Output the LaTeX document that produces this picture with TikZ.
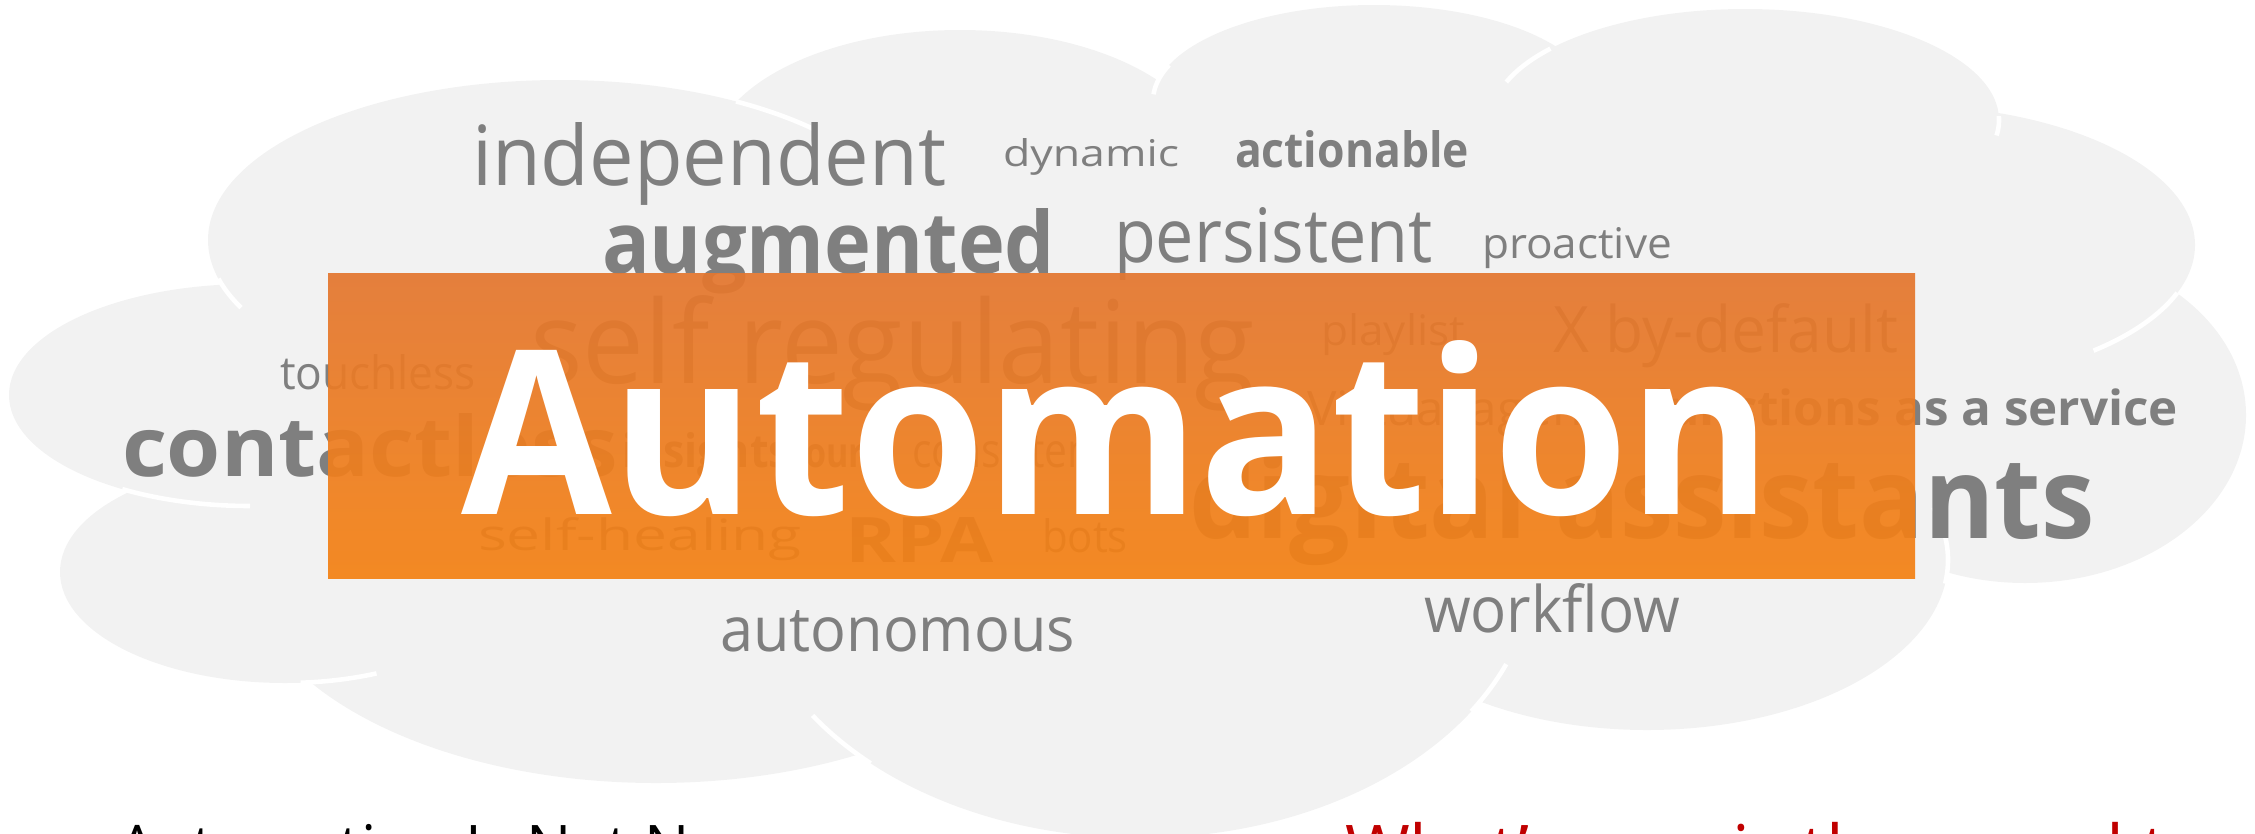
\documentclass[tikz,border=0pt]{standalone}
\usepackage{fontspec}
\newfontfamily\os{Open Sans}
\definecolor{cloudgray}{RGB}{242,242,242}
\definecolor{wgray}{RGB}{127,127,127}
\definecolor{otop}{RGB}{228,119,48}
\definecolor{obot}{RGB}{244,130,20}
\definecolor{nred}{RGB}{192,0,0}
\newlength\tmpw
\newlength\tmph
\newcommand\wfit[4]{\setlength\tmpw{0.01cm}\tmpw=#1\tmpw\setlength\tmph{0.01cm}\tmph=#2\tmph\resizebox{\tmpw}{\tmph}{\os#3#4}}
\newcommand\warc[6]{\draw[cloudline] plot[domain=#5:#6, samples=30] ({#1+#3*cos(\x)},{#2+#4*sin(\x)});}
\begin{document}
\begin{tikzpicture}[x=0.01cm,y=-0.01cm,
  word/.style={anchor=base west,inner sep=0pt,outer sep=0pt,text=wgray},
  cloudline/.style={draw=white,line width=1.3pt,line cap=butt}]
\useasboundingbox (0,0) rectangle (2255,833);
\clip (0,0) rectangle (2255,833);
% cloud lobes
\fill[cloudgray] (560,240) ellipse[x radius=352,y radius=160];
\fill[cloudgray] (960,160) ellipse[x radius=250,y radius=130];
\fill[cloudgray] (1374,101) ellipse[x radius=221,y radius=96];
\fill[cloudgray] (1745,120) ellipse[x radius=254,y radius=111];
\fill[cloudgray] (1900,245) ellipse[x radius=295,y radius=140];
\fill[cloudgray] (2025,415) ellipse[x radius=221,y radius=168];
\fill[cloudgray] (1647,560) ellipse[x radius=301,y radius=170];
\fill[cloudgray] (1140,560) ellipse[x radius=395,y radius=278];
\fill[cloudgray] (656,560) ellipse[x radius=413,y radius=223];
\fill[cloudgray] (285,572) ellipse[x radius=225,y radius=111];
\fill[cloudgray] (250,395) ellipse[x radius=241,y radius=111];
\fill[cloudgray] (560,240) -- (960,160) -- (1374,101) -- (1745,120) -- (1900,245) -- (2025,415) -- (1647,560) -- (1140,560) -- (656,560) -- (285,572) -- (250,395) -- cycle;
% white inner arcs of the cloud
\warc{560}{240}{352}{160}{-60}{-44}
\warc{560}{240}{352}{160}{155}{166}
\warc{1374}{101}{221}{96}{-176}{-158}
\warc{1745}{120}{254}{111}{-160}{-140}
\warc{1745}{120}{254}{111}{-2}{8}
\warc{1900}{245}{295}{140}{20}{49}
\warc{250}{395}{241}{111}{90}{122}
\warc{285}{572}{225}{111}{66}{86}
\warc{1140}{560}{395}{278}{133}{146}
\warc{1140}{560}{395}{278}{22}{33}
\warc{1647}{560}{301}{170}{-18}{8}
% words
\node[word] (independent) at (472,185) {\wfit{474}{63}{}{independent}};
\node[word] (dynamic) at (1003,166) {\wfit{176}{28}{}{dynamic}};
\node[word] (actionable) at (1235,167) {\wfit{234}{37}{\bfseries}{actionable}};
\node[word] (augmented) at (602,273) {\wfit{453}{65}{\bfseries}{augmented}};
\node[word] (persistent) at (1114,262) {\wfit{319}{55}{}{persistent}};
\node[word] (proactive) at (1482,258) {\wfit{190}{31}{}{proactive}};
\node[word] (touchless) at (280,389) {\wfit{196}{35}{}{touchless}};
\node[word] (selfreg) at (530,383) {\wfit{725}{88}{}{self regulating}};
\node[word] (playlist) at (1321,345) {\wfit{144}{32}{}{playlist}};
\node[word] (xbydefault) at (1553,352) {\wfit{345}{49}{}{X by-default}};
\node[word] (virtual) at (1307,425) {\wfit{293}{36}{}{Virtual agent}};
\node[word] (faas) at (1648,425) {\wfit{530}{37}{\bfseries}{functions as a service}};
\node[word] (contactless) at (122,476) {\wfit{496}{63}{\bfseries}{contactless}};
\node[word] (insights) at (622,467) {\wfit{168}{35}{\bfseries}{insights}};
\node[word] (our) at (805,467) {\wfit{59}{23}{\bfseries}{our}};
\node[word] (consistent) at (912,467) {\wfit{195}{35}{}{consistent}};
\node[word] (selfheal) at (478,550) {\wfit{324}{33}{}{self-healing}};
\node[word] (rpa) at (845,562) {\wfit{149}{45}{\bfseries}{RPA}};
\node[word] (bots) at (1042,552) {\wfit{86}{34}{}{bots}};
\node[word] (digital) at (1189,538) {\wfit{906}{86}{\bfseries}{digital assistants}};
\node[word] (autonomous) at (720,651) {\wfit{355}{41}{}{autonomous}};
\node[word] (workflow) at (1424,632) {\wfit{256}{49}{}{workflow}};
% orange banner
\shade[top color=otop,bottom color=obot,fill opacity=0.93] (328,273) rectangle (1915,578);
\node[anchor=base west,inner sep=0pt,outer sep=0pt,text=white] (automation) at (461,514) {\wfit{1311}{174}{\bfseries}{Automation}};
% bottom captions
\node[anchor=base west,inner sep=0pt,outer sep=0pt,text=black,font=\os\fontsize{17.1}{20}\selectfont] (notnew) at (118,868) {Automation Is Not New};
\node[anchor=base west,inner sep=0pt,outer sep=0pt,text=nred,font=\os\fontsize{19.9}{24}\selectfont] (speed) at (1345,875) {What’s new is the speed to};
\end{tikzpicture}
\end{document}
